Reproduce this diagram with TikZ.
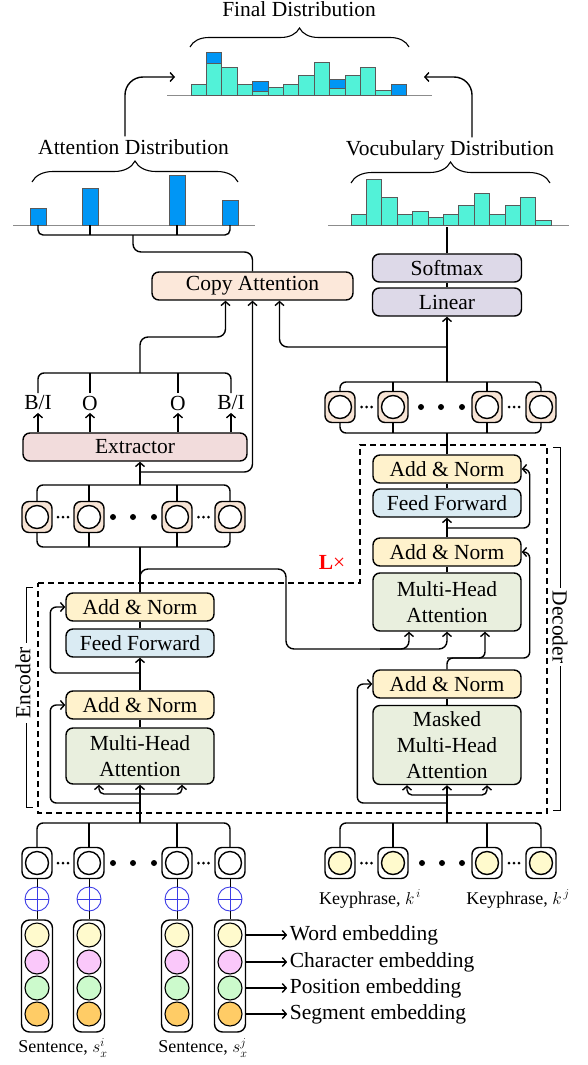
\documentclass[tikz,border=0pt]{standalone}
\usepackage{amsmath}
\usepackage{fontspec}
\setmainfont{Liberation Serif}
\usetikzlibrary{arrows.meta,decorations.pathreplacing,positioning}

\definecolor{addc}{RGB}{255,242,204}
\definecolor{ffc}{RGB}{218,235,243}
\definecolor{mhac}{RGB}{233,239,222}
\definecolor{linc}{RGB}{221,217,232}
\definecolor{copyc}{RGB}{252,232,218}
\definecolor{extc}{RGB}{242,220,220}
\definecolor{cellc}{RGB}{247,228,213}
\definecolor{tealc}{RGB}{82,242,216}
\definecolor{blueb}{RGB}{0,150,245}
\definecolor{plusc}{RGB}{60,60,230}
\definecolor{embY}{RGB}{255,250,205}
\definecolor{embP}{RGB}{250,200,250}
\definecolor{embG}{RGB}{204,250,204}
\definecolor{embO}{RGB}{255,204,102}

\newcommand{\lblfont}{\fontsize{21.5}{26}\selectfont}
\newcommand{\sublfont}{\fontsize{18}{21}\selectfont}

\tikzset{
    blk/.style={draw, rounded corners=7pt, inner sep=0pt, align=center, font=\lblfont, minimum height=28pt},
    addnorm/.style={blk, fill=addc, minimum width=148pt},
    feedfwd/.style={blk, fill=ffc, minimum width=148pt},
    mhead/.style={blk, fill=mhac, minimum width=148pt},
    outblk/.style={blk, fill=linc, minimum width=149pt},
    cellbox/.style={draw, rounded corners=7pt, minimum width=30pt, minimum height=31pt, inner sep=0pt},
    ring/.style={draw, circle, fill=white, minimum size=23pt, inner sep=0pt},
    oplusnode/.style={draw=plusc, line width=0.9pt, circle, minimum size=24pt, inner sep=0pt,
        path picture={\draw[plusc, line width=0.9pt] (path picture bounding box.north) -- (path picture bounding box.south) (path picture bounding box.west) -- (path picture bounding box.east);}},
    embcol/.style={draw, rounded corners=8pt, minimum width=31pt, minimum height=112pt, inner sep=0pt},
    emb/.style={draw, circle, minimum size=24pt, inner sep=0pt, line width=1.1pt},
    bar/.style={draw=black!65, line width=0.8pt},
    brc/.style={decorate, decoration={brace, amplitude=#1}, line width=1.1pt},
    txt/.style={font=\lblfont, inner sep=2pt}
}

\begin{document}
\begin{tikzpicture}[x=1pt, y=-1pt, line width=1.4pt, >={Straight Barb[length=4pt,width=9pt]}]
        \useasboundingbox (0,0) rectangle (587,1065);

        % distributions
        \draw[black!45, line width=1pt] (167,95) -- (432,95);
        \draw[black!45, line width=1pt] (13,225) -- (255,225);
        \draw[black!45, line width=1pt] (328,225) -- (569,225);
        \foreach \h [count=\i from 0] in {84,63,67,84,91,87,84,75,62,88,75,67,90}
            \filldraw[bar, fill=tealc] ({191+\i*15.4},95) rectangle ({191+(\i+1)*15.4},\h);
        \foreach \i/\a/\b in {1/52/63, 4/81/91, 9/79/88, 13/84/95}
            \filldraw[bar, fill=blueb] ({191+\i*15.4},\b) rectangle ({191+(\i+1)*15.4},\a);
        \foreach \xa/\h in {30/208, 82/188, 169/175, 222/200}
            \filldraw[bar, fill=blueb] (\xa,225) rectangle ({\xa+16},\h);
        \foreach \h [count=\i from 0] in {214,179,197,214,211,217,214,205,193,214,205,197,220}
            \filldraw[bar, fill=tealc] ({351+\i*15.4},225) rectangle ({351+(\i+1)*15.4},\h);

        \node[txt, anchor=base] (finLbl) at (299,17) {Final Distribution};
        \node[txt, anchor=base] (attLbl) at (133.5,154) {Attention Distribution};
        \node[txt, anchor=base] (vocLbl) at (450,155) {Vocubulary Distribution};
        \draw[brc=19pt] (190,47) -- (409,47);
        \draw[brc=21pt] (32,182) -- (238,182);
        \draw[brc=21pt] (351,183) -- (550,183);
        \coordinate (finL) at (175,77);
        \coordinate (finR) at (424,77);
        \draw[->, rounded corners=18pt] ([xshift=-8.5pt]attLbl.north) |- (finL);
        \draw[->, rounded corners=18pt] ([xshift=22pt]vocLbl.north) |- (finR);

        % copy attention, softmax, extractor
        \node[blk, fill=copyc, minimum width=201pt] (copy) at (252.5,286) {Copy Attention};
        \node[outblk] (soft) at (447,268) {Softmax};
        \node[outblk] (lin) at (447,302) {Linear};
        \node[blk, fill=extc, minimum width=224pt] (ext) at (135,447) {Extractor};

        \coordinate (attB) at (133,235);
        \draw[rounded corners=5pt] (38,225) |- (attB) -| (230,225);
        \draw (90,225) -- (90,235) (177,225) -- (177,235);
        \draw[rounded corners=8pt] (attB) -- (133,252) -| (copy.north);
        \coordinate (vocB) at (447,227);
        \draw (soft.north) -- (vocB);
        \draw (lin.north) -- (soft.south);

        \node[txt] (bi1) at (38,403) {B/I};
        \node[txt] (o1) at (90,403) {O};
        \node[txt] (o2) at (178,403) {O};
        \node[txt] (bi2) at (231,403) {B/I};
        \foreach \n in {bi1,o1,o2,bi2}
            \draw[->] (ext.north -| \n) -- (\n.south);
        \coordinate (extT) at (140,373);
        \draw[rounded corners=6pt] (bi1.north) |- (extT) -| (bi2.north);
        \draw (o1.north) -- (o1.north |- extT) (o2.north) -- (o2.north |- extT);
        \draw[->, rounded corners=8pt] (extT) -- (140,337) -| ([xshift=-27pt]copy.south);

        % decoder outputs
        \foreach \x [count=\i] in {340,393,487,541} {
            \node[cellbox, fill=cellc] (do\i) at (\x,407) {};
            \node[ring] at (do\i) {};
        }
        \coordinate (doT) at (447,382);
        \coordinate (doB) at (447,433);
        \draw[rounded corners=6pt] (do1.north) |- (doT) -| (do4.north);
        \draw (do2.north) -- (do2.north |- doT) (do3.north) -- (do3.north |- doT);
        \draw[rounded corners=6pt] (do1.south) |- (doB) -| (do4.south);
        \draw (do2.south) -- (do2.south |- doB) (do3.south) -- (do3.south |- doB);
        \foreach \x in {361.5,366.5,371.5,509,514,519} \fill (\x,407) circle (1.5);
        \foreach \x in {421,441,462} \fill (\x,407) circle (3);
        \draw[->] (doT) -- (lin.south);
        \draw[->, rounded corners=8pt] (447,347) -| ([xshift=27pt]copy.south);

        % encoder outputs
        \foreach \x [count=\i] in {37,89,177,230} {
            \node[cellbox, fill=cellc] (eo\i) at (\x,517) {};
            \node[ring] at (eo\i) {};
        }
        \coordinate (eoT) at (140,485);
        \coordinate (eoB) at (140,547);
        \draw[rounded corners=6pt] (eo1.north) |- (eoT) -| (eo4.north);
        \draw (eo2.north) -- (eo2.north |- eoT) (eo3.north) -- (eo3.north |- eoT);
        \draw[rounded corners=6pt] (eo1.south) |- (eoB) -| (eo4.south);
        \draw (eo2.south) -- (eo2.south |- eoB) (eo3.south) -- (eo3.south |- eoB);
        \foreach \x in {58,63,68,198.5,203.5,208.5} \fill (\x,517) circle (1.5);
        \foreach \x in {113,133,154} \fill (\x,517) circle (3);
        \draw[->] (eoT) -- (ext.south -| eoT);
        \draw[->, rounded corners=8pt] (140,472) -| (copy.south);

        % stacks
        \draw[dash pattern=on 6pt off 4pt] (38,583) -- (360,583) -- (360,445) -- (547,445) -- (547,813) -- (38,813) -- cycle;
        \node[text=red, font=\lblfont] (lx) at (332,562) {\textbf{L}×};

        \node[addnorm] (eAN2) at (140,607) {Add \& Norm};
        \node[feedfwd] (eFF) at (140,643) {Feed Forward};
        \node[addnorm] (eAN1) at (140,705) {Add \& Norm};
        \node[mhead, minimum height=56pt] (eMHA) at (140,756) {Multi-Head\\Attention};

        \node[addnorm] (dAN3) at (447,469) {Add \& Norm};
        \node[feedfwd] (dFF) at (447,503) {Feed Forward};
        \node[addnorm] (dAN2) at (447,552) {Add \& Norm};
        \node[mhead, minimum height=58pt] (dMHA) at (447,602) {Multi-Head\\Attention};
        \node[addnorm] (dAN1) at (447,684) {Add \& Norm};
        \node[mhead, minimum height=79pt] (dMMHA) at (447,745) {Masked\\Multi-Head\\Attention};

        \coordinate (sBus) at (140,823);
        \coordinate (kBus) at (447,823);

        \draw[->] (sBus) -- (eMHA.south);
        \draw[->, rounded corners=5pt] (140,794) -| ([xshift=-41pt]eMHA.south);
        \draw[->, rounded corners=5pt] (140,794) -| ([xshift=42pt]eMHA.south);
        \draw[->, rounded corners=6pt] (140,803) -| ([xshift=-15pt]eAN1.west) -- (eAN1.west);
        \draw (eMHA.north) -- (eAN1.south);
        \draw[->] (eAN1.north) -- (eFF.south);
        \draw[->, rounded corners=6pt] (140,673) -| ([xshift=-15pt]eAN2.west) -- (eAN2.west);
        \draw (eFF.north) -- (eAN2.south);
        \draw (eAN2.north) -- (eoB);
        \draw[->, rounded corners=8pt] (eAN2.north) |- (286,569) -- (286,649) -| ([xshift=-38pt]dMHA.south);
        \draw[->, rounded corners=8pt] (380,649) -| (dMHA.south);

        \draw[->] (kBus) -- (dMMHA.south);
        \draw[->, rounded corners=5pt] (447,795) -| ([xshift=-40pt]dMMHA.south);
        \draw[->, rounded corners=5pt] (447,795) -| ([xshift=40pt]dMMHA.south);
        \draw[->, rounded corners=6pt] (447,803) -| ([xshift=-15pt]dAN1.west) -- (dAN1.west);
        \draw (dMMHA.north) -- (dAN1.south);
        \draw[->, rounded corners=6pt] (dAN1.north) -- (447,658) -| ([xshift=38pt]dMHA.south);
        \draw[->, rounded corners=6pt] (447,658) -| ([xshift=8pt]dAN2.east) -- (dAN2.east);
        \draw (dMHA.north) -- (dAN2.south);
        \draw[->] (dAN2.north) -- (dFF.south);
        \draw[->, rounded corners=6pt] (447,528) -| ([xshift=8pt]dAN3.east) -- (dAN3.east);
        \draw (dFF.north) -- (dAN3.south);
        \draw (dAN3.north) -- (doB);

        \draw[line width=0.7pt] (33,587) -- (26,587) -- (26,643) (26,723) -- (26,807) -- (33,807);
        \node[font=\lblfont, rotate=90] (encLbl) at (23,683) {Encoder};
        \draw[line width=0.7pt] (553,447) -- (560,447) -- (560,588) (560,666) -- (560,810) -- (553,810);
        \node[font=\lblfont, rotate=-90] (decLbl) at (560,627) {Decoder};

        % inputs
        \foreach \x [count=\i] in {37,89,177,230} {
            \node[cellbox, fill=white] (sc\i) at (\x,863) {};
            \node[ring] at (sc\i) {};
            \node[oplusnode] (sp\i) at (\x,899) {};
            \node[embcol] (se\i) at (\x,976) {};
            \node[emb, fill=embY] (sw\i) at (\x,935) {};
            \node[emb, fill=embP] (sch\i) at (\x,962) {};
            \node[emb, fill=embG] (spo\i) at (\x,988) {};
            \node[emb, fill=embO] (sg\i) at (\x,1014) {};
            \draw[line width=1pt] (sc\i) -- (sp\i);
            \draw[line width=1pt] (sp\i) -- (se\i);
        }
        \draw[rounded corners=6pt] (sc1.north) |- (sBus) -| (sc4.north);
        \draw (sc2.north) -- (sc2.north |- sBus) (sc3.north) -- (sc3.north |- sBus);
        \foreach \x in {58,63,68,198.5,203.5,208.5} \fill (\x,863) circle (1.5);
        \foreach \x in {113,133,154} \fill (\x,863) circle (3);
        \foreach \n/\t in {sw/Word, sch/Character, spo/Position, sg/Segment}
            \draw[->] (se4.east |- \n4) -- ++(41,0) node[right, font=\lblfont, inner sep=2pt] (lab\n) {\t{} embedding};
        \node[font=\sublfont] (sl1) at (63,1048) {Sentence, $s_x^i$};
        \node[font=\sublfont] (sl2) at (203,1048) {Sentence, $s_x^j$};

        \foreach \x [count=\i] in {340,393,487,541} {
            \node[cellbox, fill=white] (kc\i) at (\x,863) {};
            \node[ring, fill=embY] at (kc\i) {};
        }
        \draw[rounded corners=6pt] (kc1.north) |- (kBus) -| (kc4.north);
        \draw (kc2.north) -- (kc2.north |- kBus) (kc3.north) -- (kc3.north |- kBus);
        \foreach \x in {361.5,366.5,371.5,509,514,519} \fill (\x,863) circle (1.5);
        \foreach \x in {422,442,462} \fill (\x,863) circle (3);
        \node[font=\sublfont] (kl1) at (370,899) {Keyphrase, $k^{\,i}$};
        \node[font=\sublfont] (kl2) at (518,899) {Keyphrase, $k^{\,j}$};
\end{tikzpicture}
\end{document}
